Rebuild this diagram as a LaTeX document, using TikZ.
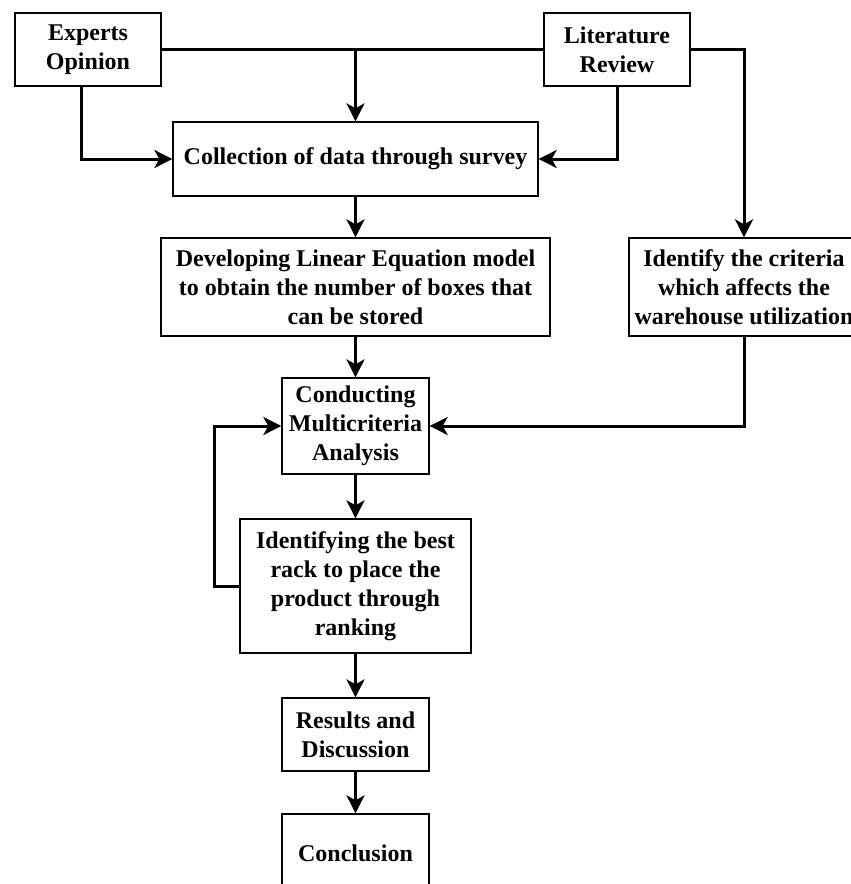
\documentclass[tikz,border=0pt]{standalone}
\usepackage{fontspec}
\setmainfont{Liberation Serif}
\usetikzlibrary{arrows.meta}
\begin{document}
\begin{tikzpicture}[x=1pt,y=-1pt,
  box/.style={draw,line width=1.3pt,inner sep=0pt,align=center,
    font=\fontsize{24}{29}\selectfont\bfseries},
  conn/.style={line width=3pt},
  arr/.style={conn,-{Stealth[length=18pt,width=18pt,inset=5pt]}}]
\useasboundingbox (0,0) rectangle (851,884);
\clip (0,0) rectangle (851,884);
\node[box,minimum width=146pt,minimum height=73pt] (exp) at (88,49.5) {Experts\\Opinion};
\node[box,minimum width=146pt,minimum height=73pt] (lit) at (617,49.5) {Literature\\Review};
\node[box,minimum width=365pt,minimum height=74pt] (col) at (355.5,159) {Collection of data through survey};
\node[box,minimum width=389pt,minimum height=98pt] (dev) at (355.5,287) {Developing Linear Equation model\\to obtain the number of boxes that\\can be stored};
\node[box,minimum width=230pt,minimum height=98pt] (idc) at (744,287) {Identify the criteria\\which affects the\\warehouse utilization};
\node[box,minimum width=147pt,minimum height=96pt] (con) at (355.5,426) {Conducting\\Multicriteria\\Analysis};
\node[box,minimum width=231pt,minimum height=134pt] (idb) at (355.5,586) {Identifying the best\\rack to place the\\product through\\ranking};
\node[box,minimum width=147pt,minimum height=73pt] (res) at (355.5,734.5) {Results and\\Discussion};
\node[box,minimum width=147pt,minimum height=78pt] (clu) at (355.5,853) {Conclusion};
\coordinate (j1) at (col.north |- exp.east);
\draw[conn] (exp.east) -- (lit.west);
\draw[arr] (j1) -- (col.north);
\draw[arr] ([xshift=-7pt]exp.south) |- (col.west);
\draw[arr] (lit.south) |- (col.east);
\draw[arr] (lit.east) -| (idc.north);
\draw[arr] (col.south) -- (dev.north);
\draw[arr] (dev.south) -- (con.north);
\draw[arr] (idc.south) |- (con.east);
\draw[arr] (con.south) -- (idb.north);
\draw[arr] (idb.west) -- ++(-25,0) |- (con.west);
\draw[arr] (idb.south) -- (res.north);
\draw[arr] (res.south) -- (clu.north);
\end{tikzpicture}
\end{document}
